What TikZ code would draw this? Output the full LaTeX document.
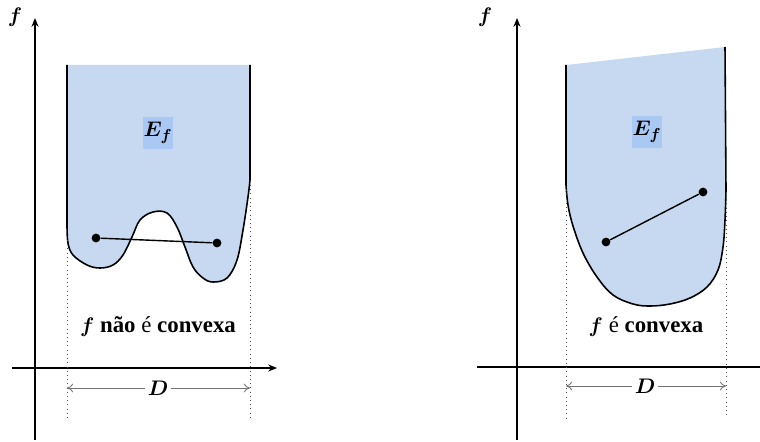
\documentclass[tikz,border=0pt]{standalone}
\usepackage{bm,amsmath,xcolor,fontspec}
\setmainfont{Liberation Serif}
\usetikzlibrary{calc,arrows.meta}

\definecolor{regiao}{HTML}{C6D9F1}
\definecolor{rotulo}{HTML}{A9C8F4}

\tikzset{
  eixo/.style={line width=0.8pt,-{Stealth[length=5pt,width=4pt]}},
  borda/.style={line width=0.9pt},
  guia/.style={line width=0.4pt,dotted,black!70},
  cota/.style={line width=0.5pt,black!55,-{To[length=3.5pt,width=5pt]}},
  ponto/.style={circle,fill=black,inner sep=0pt,minimum size=5pt},
  texto/.style={font=\fontsize{13}{15}\selectfont},
  epi/.style={fill=rotulo,inner sep=0pt,minimum width=0.6cm,minimum height=0.64cm,font=\fontsize{13}{15}\selectfont}
}

\begin{document}
\begin{tikzpicture}[x=0.02cm,y=-0.02cm]
  \useasboundingbox (0,0) rectangle (760,442);

  % fronteiras das duas regioes (coordenadas em pixels)
  \def\naoconvexa{(67,65) -- (67,225) -- plot[smooth,tension=0.6] coordinates {(67,225) (68,243) (73,255) (87,265) (100,268) (113,265) (123,255) (132,237) (140,220) (153,212) (167,213) (177,227) (185,247) (193,267) (203,278) (213,282) (227,278) (237,260) (243,230) (248,197) (250,180)} -- (250,65)}
  \def\convexa{(566,65) -- (566,185) -- plot[smooth,tension=0.6] coordinates {(566,185) (568,205) (573,226) (583,253) (597,277) (613,295) (633,304) (650,306) (670,304) (690,298) (707,287) (718,270) (723,247) (725,220) (726,190)} -- (725,47)}

  % ---- grafico da esquerda ----
  \fill[regiao] \naoconvexa -- cycle;
  \draw[borda] \naoconvexa;

  \coordinate (oA) at (35,440);
  \coordinate (topoA) at (35,18);
  \coordinate (xiniA) at (12,368);
  \coordinate (xfimA) at (277,368);
  \draw[eixo] (oA) -- (topoA);
  \draw[eixo] (xiniA) -- (xfimA);
  \node[texto] (fA) at (15,17) {$\boldsymbol{f}$};

  \coordinate (gA1) at (67,240);  \coordinate (gA2) at (67,418);
  \coordinate (gB1) at (250,185); \coordinate (gB2) at (250,418);
  \draw[guia] (gA1) -- (gA2);
  \draw[guia] (gB1) -- (gB2);

  \node[texto,fill=white,inner sep=1.5pt] (dA) at (158,388) {$\boldsymbol{D}$};
  \draw[cota] (dA) -- (67,388);
  \draw[cota] (dA) -- (250,388);

  \node[epi] (eA) at (158,133) {$\boldsymbol{E_f}$};
  \node[ponto] (pA1) at (96,238) {};
  \node[ponto] (pA2) at (217,243) {};
  \draw[line width=0.8pt] (pA1) -- (pA2);
  \node[texto] (tA) at (158,327) {$\boldsymbol{f}$ \textbf{não} é \textbf{convexa}};

  % ---- grafico da direita ----
  \fill[regiao] \convexa -- cycle;
  \draw[borda] \convexa;

  \coordinate (oB) at (517,440);
  \coordinate (topoB) at (517,18);
  \coordinate (xiniB) at (477,367);
  \coordinate (xfimB) at (760,367);
  \draw[eixo] (oB) -- (topoB);
  \draw[line width=0.8pt] (xiniB) -- (xfimB);
  \node[texto] (fB) at (485,17) {$\boldsymbol{f}$};

  \coordinate (gC1) at (566,190); \coordinate (gC2) at (566,418);
  \coordinate (gD1) at (726,195); \coordinate (gD2) at (726,418);
  \draw[guia] (gC1) -- (gC2);
  \draw[guia] (gD1) -- (gD2);

  \node[texto,fill=white,inner sep=1.5pt] (dB) at (645,386) {$\boldsymbol{D}$};
  \draw[cota] (dB) -- (566,386);
  \draw[cota] (dB) -- (726,386);

  \node[epi] (eB) at (647,132) {$\boldsymbol{E_f}$};
  \node[ponto] (pB1) at (606,242) {};
  \node[ponto] (pB2) at (703,192) {};
  \draw[line width=0.8pt] (pB1) -- (pB2);
  \node[texto] (tB) at (646,327) {$\boldsymbol{f}$ é \textbf{convexa}};
\end{tikzpicture}
\end{document}
